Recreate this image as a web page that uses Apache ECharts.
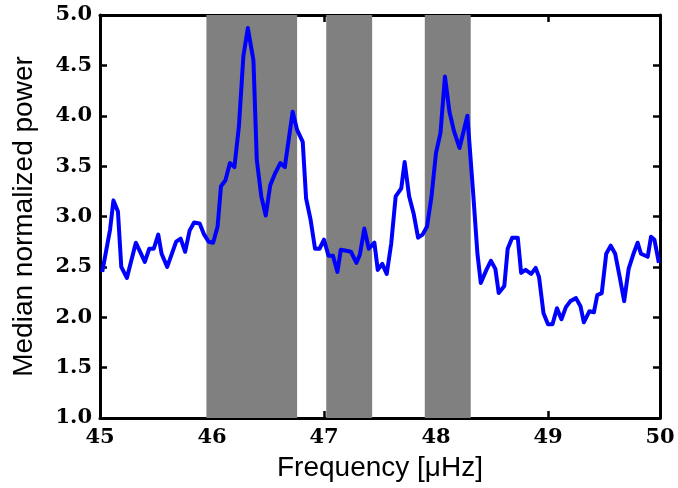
<!DOCTYPE html>
<html lang="en">
<head>
  <meta charset="UTF-8">
  <title>Median normalized power</title>
  <script src="https://cdn.jsdelivr.net/npm/echarts@6/dist/echarts.min.js"></script>
  <style>
    html, body { margin: 0; padding: 0; background: #fff; }
    #chart { width: 678px; height: 488px; }
  </style>
</head>
<body>
<div id="chart"></div>
<script>
  // frequency (µHz) and median normalized power
  var freq = [
    45.02, 45.09, 45.12, 45.16, 45.19, 45.24, 45.32, 45.40, 45.44, 45.48,
    45.52, 45.55, 45.60, 45.68, 45.72, 45.76, 45.80, 45.84, 45.89, 45.93,
    45.97, 46.01, 46.05, 46.08, 46.12, 46.16, 46.20, 46.24, 46.28, 46.32,
    46.37, 46.40, 46.44, 46.48, 46.52, 46.56, 46.61, 46.65, 46.72, 46.76,
    46.81, 46.84, 46.88, 46.92, 46.96, 47.00, 47.04, 47.08, 47.12, 47.15,
    47.20, 47.24, 47.29, 47.32, 47.36, 47.40, 47.45, 47.48, 47.52, 47.56,
    47.60, 47.64, 47.69, 47.72, 47.76, 47.80, 47.84, 47.88, 47.92, 47.96,
    48.00, 48.04, 48.08, 48.12, 48.16, 48.21, 48.28, 48.33, 48.37, 48.40,
    48.45, 48.49, 48.53, 48.56, 48.61, 48.64, 48.68, 48.73, 48.76, 48.80,
    48.85, 48.89, 48.92, 48.96, 49.00, 49.04, 49.08, 49.12, 49.16, 49.20,
    49.25, 49.29, 49.32, 49.37, 49.41, 49.44, 49.48, 49.52, 49.56, 49.60,
    49.64, 49.68, 49.72, 49.76, 49.80, 49.83, 49.89, 49.92, 49.95, 49.99
  ];
  var power = [
    2.45, 2.87, 3.16, 3.05, 2.50, 2.39, 2.74, 2.55, 2.68, 2.68,
    2.82, 2.63, 2.50, 2.75, 2.78, 2.65, 2.86, 2.94, 2.93, 2.82,
    2.75, 2.74, 2.90, 3.30, 3.36, 3.53, 3.49, 3.89, 4.59, 4.87,
    4.55, 3.56, 3.20, 3.01, 3.31, 3.42, 3.53, 3.49, 4.04, 3.86,
    3.74, 3.18, 2.97, 2.68, 2.68, 2.77, 2.61, 2.61, 2.45, 2.67,
    2.66, 2.65, 2.54, 2.62, 2.88, 2.68, 2.74, 2.47, 2.53, 2.43,
    2.73, 3.20, 3.28, 3.54, 3.20, 3.03, 2.79, 2.82, 2.90, 3.20,
    3.63, 3.83, 4.39, 4.04, 3.85, 3.68, 4.00, 3.26, 2.63, 2.34,
    2.47, 2.56, 2.48, 2.24, 2.31, 2.68, 2.79, 2.79, 2.44, 2.47,
    2.43, 2.49, 2.40, 2.04, 1.93, 1.93, 2.09, 1.98, 2.10, 2.16,
    2.19, 2.11, 1.95, 2.06, 2.05, 2.22, 2.24, 2.63, 2.71, 2.63,
    2.40, 2.16, 2.48, 2.62, 2.74, 2.63, 2.60, 2.80, 2.77, 2.54
  ];
  // shaded frequency ranges
  var bands = [[45.95, 46.76], [47.02, 47.43], [47.90, 48.31]];
  var xTicks = [45, 46, 47, 48, 49, 50];
  var yTicks = [1.0, 1.5, 2.0, 2.5, 3.0, 3.5, 4.0, 4.5, 5.0];

  var lineData = freq.map(function(f, i) { return [f, power[i]]; });
  var areaData = bands.map(function(b) { return [{ xAxis: b[0] }, { xAxis: b[1] }]; });

  var tickFont = { fontFamily: 'DejaVu Serif', fontWeight: 'bold', fontSize: 21, color: '#000' };
  var nameFont = { fontFamily: 'Liberation Sans', fontSize: 28, color: '#000' };
  var axisLine = { show: true, onZero: false, lineStyle: { color: '#000', width: 3 } };
  var tickIn = { show: true, inside: true, length: 7, lineStyle: { color: '#000', width: 2.5 } };

  var chart = echarts.init(document.getElementById('chart'), null, { renderer: 'canvas' });
  chart.setOption({
    animation: false,
    backgroundColor: '#fff',
    grid: { left: 100, right: 18, top: 15, bottom: 70 },
    xAxis: [{
      type: 'value', min: xTicks[0], max: xTicks[xTicks.length - 1], interval: 1,
      position: 'bottom',
      name: 'Frequency [\u03bcHz]', nameLocation: 'middle', nameGap: 36,
      nameTextStyle: nameFont,
      axisLine: axisLine, axisTick: tickIn,
      axisLabel: Object.assign({ margin: 9 }, tickFont),
      splitLine: { show: false }
    }, {
      type: 'value', min: xTicks[0], max: xTicks[xTicks.length - 1], interval: 1,
      position: 'top',
      axisLine: axisLine, axisTick: tickIn,
      axisLabel: { show: false }, splitLine: { show: false }
    }],
    yAxis: [{
      type: 'value', min: yTicks[0], max: yTicks[yTicks.length - 1], interval: 0.5,
      position: 'left',
      name: 'Median normalized power', nameLocation: 'middle', nameGap: 62,
      nameTextStyle: nameFont,
      axisLine: axisLine, axisTick: tickIn,
      axisLabel: Object.assign({ margin: 8, formatter: function(v) { return v.toFixed(1); } }, tickFont),
      splitLine: { show: false }
    }, {
      type: 'value', min: yTicks[0], max: yTicks[yTicks.length - 1], interval: 0.5,
      position: 'right',
      axisLine: axisLine, axisTick: tickIn,
      axisLabel: { show: false }, splitLine: { show: false }
    }],
    series: [{
      name: 'bands',
      type: 'line',
      data: [],
      z: 1,
      silent: true,
      markArea: {
        silent: true,
        itemStyle: { color: '#808080', opacity: 1 },
        data: areaData
      }
    }, {
      name: 'power',
      type: 'line',
      z: 3,
      data: lineData,
      showSymbol: false,
      clip: true,
      lineStyle: { color: '#0000ff', width: 4, join: 'round' }
    }]
  });
</script>
</body>
</html>
